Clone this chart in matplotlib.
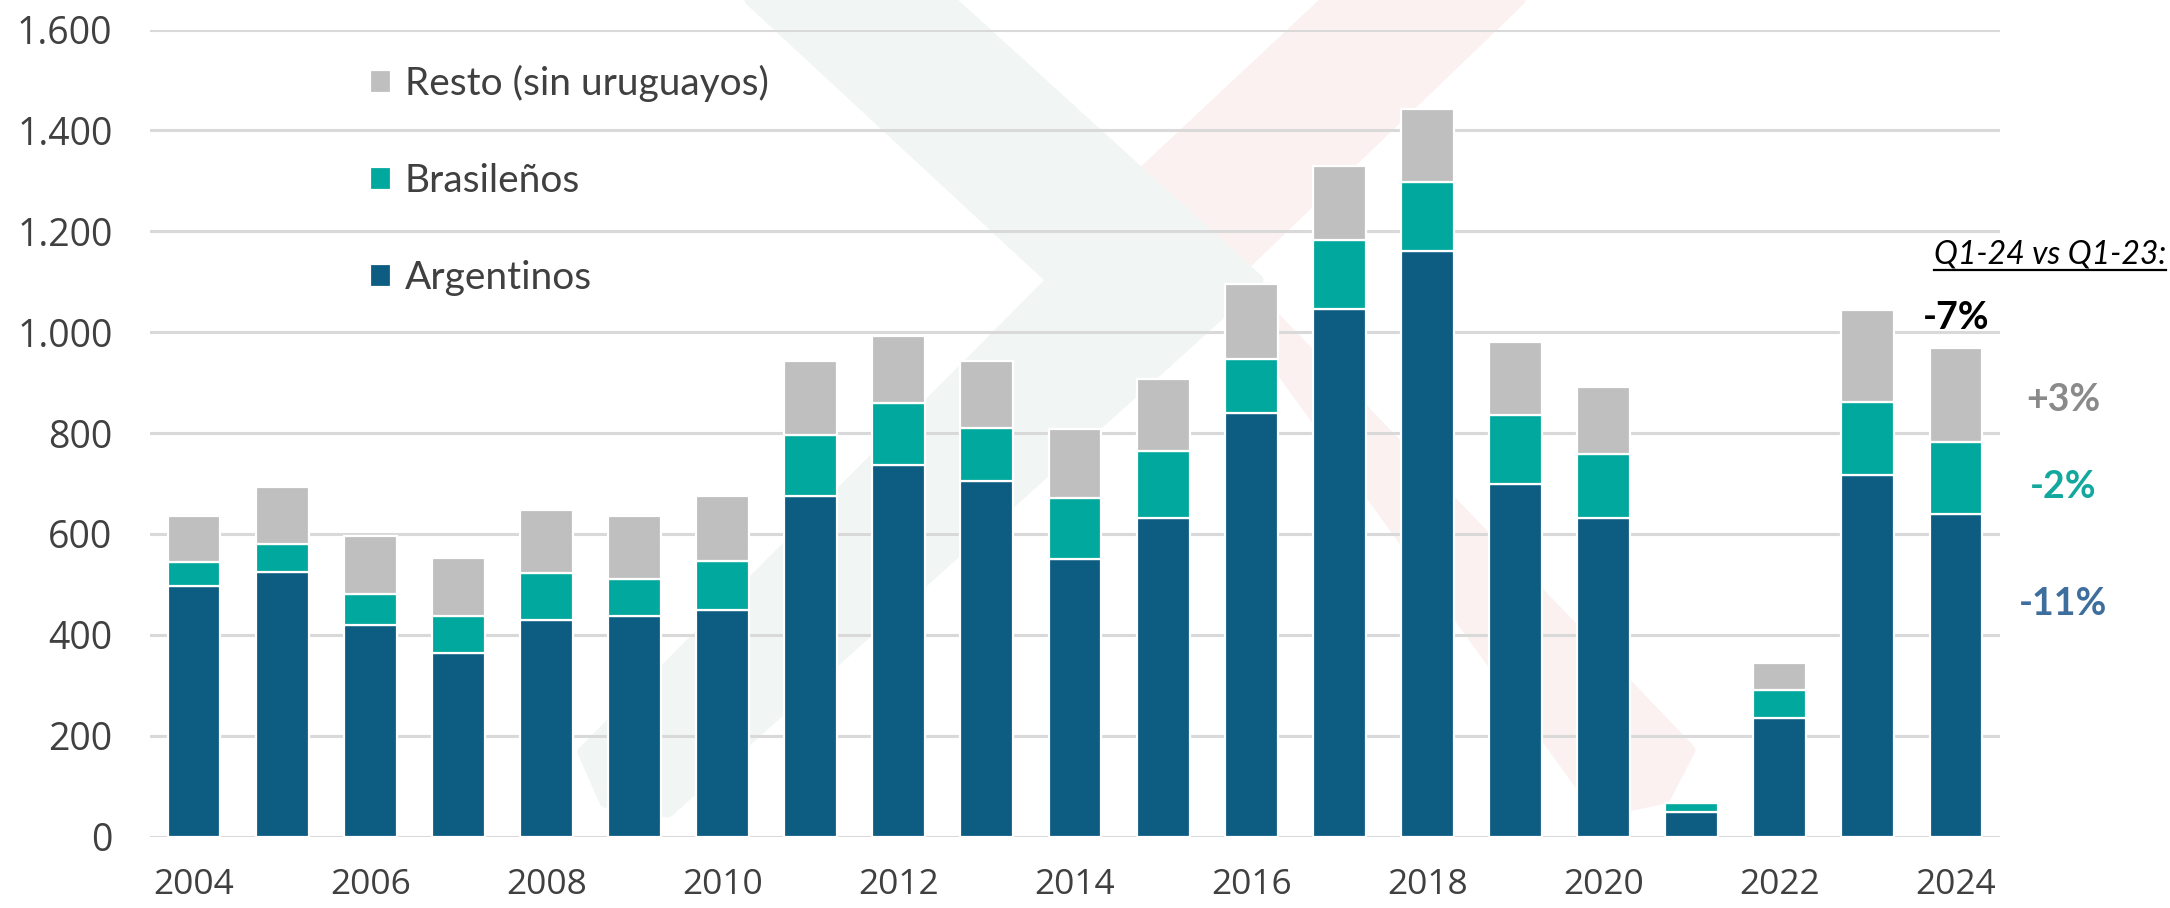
import numpy as np
import matplotlib.pyplot as plt
from matplotlib.patches import Polygon
from matplotlib.lines import Line2D
from matplotlib.ticker import FuncFormatter

plt.rcParams['font.family'] = ['Lato', 'DejaVu Sans']

# ---------------------------------------------- datos ----------------------------------------------
years = list(range(2004, 2025))
argentinos = [497, 524, 420, 364, 430, 437, 450, 675, 737, 705, 550,
              632, 840, 1045, 1160, 698, 631, 48, 235, 717, 640]
brasilenos = [48, 56, 61, 73, 92, 73, 97, 121, 123, 104, 121,
              133, 107, 137, 138, 137, 127, 18, 56, 145, 142]
resto = [90, 112, 115, 116, 126, 125, 128, 146, 133, 133, 136,
         142, 148, 147, 144, 146, 134, 0, 53, 181, 186]

series_names = ["Argentinos", "Brasileños", "Resto (sin uruguayos)"]
series_colors = ["#0D5C82", "#00A89D", "#BFBFBF"]

change_title = "Q1-24 vs Q1-23:"
change_total = "-7%"
change_labels = ["-11%", "-2%", "+3%"]
change_colors = ["#3E6E9E", "#13A89E", "#8A8A8A"]

W, H = 2170, 908
TXT = "#404040"
TICK_FONT = ['Open Sans', 'DejaVu Sans']


def px(x, y):
    # pixel (desde arriba-izquierda) -> fraccion de figura
    return (x / W, 1 - y / H)


fig = plt.figure(figsize=(W / 100, H / 100), dpi=100)

# marca de agua de fondo (logo muy claro)
pink_mark = [(1327, 0), (1520, 0), (1234, 275), (1690, 750), (1665, 798),
             (1600, 812), (1140, 175)]
green_mark = [(750, 0), (950, 0), (1258, 280), (668, 812), (605, 802),
              (583, 752), (1052, 280)]
for pts, col, z in [(pink_mark, "#FBF1F1", -6), (green_mark, "#F1F6F4", -5)]:
    fig.add_artist(Polygon([px(*p) for p in pts], closed=True, facecolor=col,
                           edgecolor=col, lw=8, joinstyle="round",
                           transform=fig.transFigure, zorder=z))

ax = fig.add_axes([150 / W, 1 - 836.5 / H, 1850 / W, (836.5 - 29.5) / H])
ax.set_facecolor("none")

x = np.arange(len(years))
arg = np.array(argentinos)
bra = np.array(brasilenos)
res = np.array(resto)

bars = []
bottom = np.zeros(len(years))
for vals, name, col in zip([arg, bra, res], series_names, series_colors):
    b = ax.bar(x, vals, width=0.6, bottom=bottom, color=col, edgecolor="white",
               linewidth=1.6, label=name, zorder=3)
    bars.append(b)
    bottom = bottom + vals
total = bottom

ax.set_xlim(-0.5, len(years) - 0.5)
ax.set_ylim(0, 1600)
ax.set_yticks(np.arange(0, 1601, 200))
ax.yaxis.set_major_formatter(FuncFormatter(lambda v, p: f"{int(v):,}".replace(",", ".")))
ax.set_xticks(x[::2])
ax.set_xticklabels([str(y) for y in years[::2]])
ax.tick_params(axis="x", length=0, pad=23, labelsize=25.5, labelcolor=TXT)
ax.tick_params(axis="y", length=0, pad=27, labelsize=27, labelcolor=TXT)
for lab in ax.get_xticklabels() + ax.get_yticklabels():
    lab.set_family(TICK_FONT)
ax.yaxis.grid(True, color="#D9D9D9", lw=2.2)
ax.set_axisbelow(True)
for s in ax.spines.values():
    s.set_visible(False)

handles = [b.patches[0] for b in bars][::-1]
ax.legend(handles, series_names[::-1], loc="upper left",
          bbox_to_anchor=px(370, 65), bbox_transform=fig.transFigure,
          frameon=False, fontsize=28, labelcolor=TXT,
          handlelength=0.54, handleheight=0.54, handletextpad=0.36,
          labelspacing=1.57, borderpad=0, borderaxespad=0)

# variaciones Q1-24 vs Q1-23
ax.annotate(change_total, xy=(x[-1], total[-1]), xytext=(0, 22),
            textcoords="offset points", ha="center", va="center",
            fontsize=27, fontweight="bold", color="black", annotation_clip=False)
label_y = [461, 692, 866]
for lab, col, yy in zip(change_labels, change_colors, label_y):
    ax.text(x[-1] + 1.22, yy, lab, ha="center", va="center", fontsize=27,
            fontweight="bold", color=col, clip_on=False)

t = fig.text(*px(2166, 254), change_title, ha="right", va="center",
             fontsize=23, fontstyle="italic", color="black")
fig.canvas.draw()
bb = t.get_window_extent()
fig.add_artist(Line2D([bb.x0 / W, bb.x1 / W], [1 - 270 / H] * 2, color="black",
                      lw=1.6, transform=fig.transFigure))

fig.savefig("out.png", dpi=100)
